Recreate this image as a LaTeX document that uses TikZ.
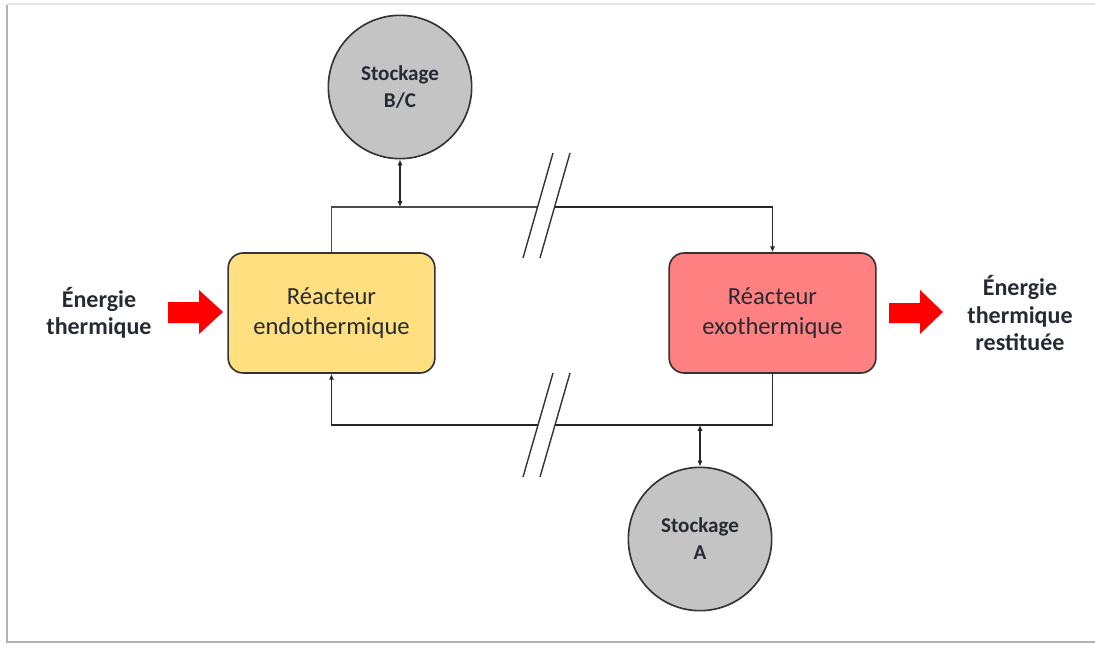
\documentclass[tikz,border=0pt]{standalone}
\usepackage{fontspec}
\setmainfont{Carlito}
\usetikzlibrary{positioning,arrows.meta}

\definecolor{endoYellow}{HTML}{FFDF80}
\definecolor{exoRed}{HTML}{FF8080}
\definecolor{stockGray}{HTML}{C4C4C4}
\definecolor{txtDark}{HTML}{262A33}
\definecolor{heatRed}{HTML}{FF0000}

\tikzset{
    reactor/.style={draw=black!80, line width=1.4pt, rounded corners=4.5mm, minimum width=62mm, minimum height=36mm, align=center, text=txtDark, font=\fontsize{21}{25}\selectfont},
    storage/.style={circle, draw=black!80, line width=1.4pt, fill=stockGray, minimum size=43mm, align=center, text=txtDark, font=\bfseries\fontsize{18}{23}\selectfont},
    energytxt/.style={align=center, text=txtDark, font=\bfseries\fontsize{20.5}{23.5}\selectfont},
    flow/.style={draw=black!85, line width=1.3pt},
    tip/.style={-{Latex[length=5pt,width=4.5pt]}},
    tips/.style={{Latex[length=5pt,width=4.5pt]}-{Latex[length=5pt,width=4.5pt]}}
}

\begin{document}
\begin{tikzpicture}[x=0.3mm, y=-0.3mm]
    \useasboundingbox (0,0) rectangle (1095,648);
    % frame shadow
    \draw[black!10, line width=1pt] (7,4) -- (1095,4);
    \draw[black!30, line width=1.6pt] (7,5) -- (7,642) -- (1095,642);

    \node[reactor, fill=endoYellow] (Endo) at (331.5,313) {Réacteur\\endothermique};
    \node[reactor, fill=exoRed] (Exo) at (772.5,313) {Réacteur\\exothermique};
    \node[storage] (StockBC) at (400,87) {Stockage\\B/C};
    \node[storage] (StockA) at (700,539) {Stockage\\A};

    \node[energytxt] (HeatIn) at (99,313) {Énergie\\thermique};
    \node[energytxt] (HeatOut) at (1020,313) {Énergie\\thermique\\restituée};

    % red arrows
    \fill[heatRed] (168,302) -- (199,302) -- (199,290) -- (223,312) -- (199,334) -- (199,323) -- (168,323) -- cycle;
    \fill[heatRed] (889,303) -- (920,303) -- (920,290) -- (943,312) -- (920,334) -- (920,323) -- (889,323) -- cycle;

    % broken lines
    \coordinate (TopL) at (538,207);
    \coordinate (TopR) at (555,207);
    \coordinate (BotL) at (538,425);
    \coordinate (BotR) at (555,425);
    \draw[flow, line width=0.9pt, draw=black!70] (Endo.north) |- (TopL);
    \draw[flow, tip] (TopR) -| (Exo.north);
    \draw[flow, tip] (BotL) -| (Endo.south);
    \draw[flow] (Exo.south) |- (BotR);
    \foreach \dx in {0,17} {
        \draw[black!80, line width=1.2pt] (523+\dx,258) -- (553+\dx,153);
        \draw[black!80, line width=1.2pt] (523+\dx,477) -- (553+\dx,373);
    }

    \draw[flow, tips] (StockBC.south) -- (StockBC.south |- TopL);
    \draw[flow, tips] (StockA.north) -- (StockA.north |- BotL);
\end{tikzpicture}
\end{document}
